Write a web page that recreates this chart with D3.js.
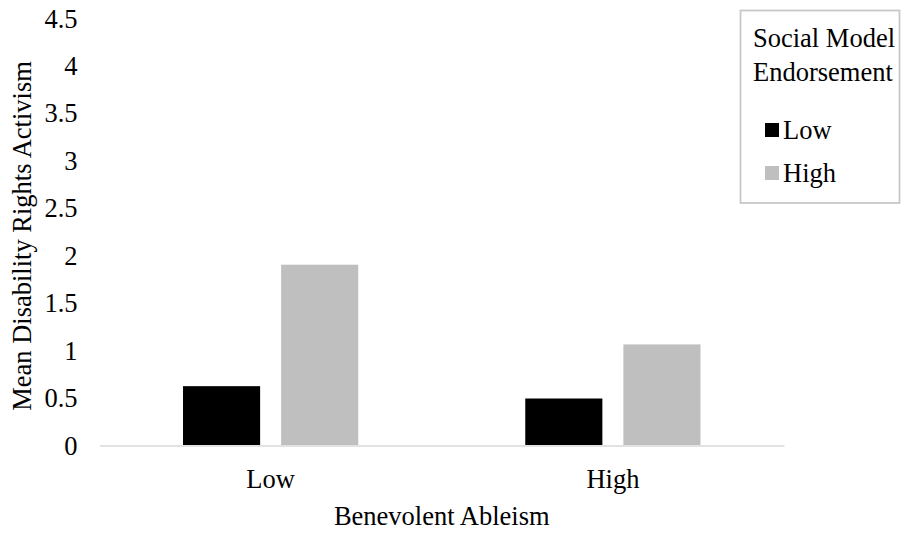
<!DOCTYPE html>
<html>
<head>
<meta charset="utf-8">
<script src="https://cdn.jsdelivr.net/npm/d3@7/dist/d3.min.js"></script>
<style>
  html, body { margin: 0; padding: 0; background: #fff; }
  svg { display: block; }
  text { font-family: "Liberation Serif", "Times New Roman", serif; fill: #000; }
</style>
</head>
<body>
<svg id="chart" width="901" height="533"></svg>
<script>
// Benevolent ableism level groups along the x axis
const categories = ["Low", "High"];
// Social model endorsement series
const seriesNames = ["Low", "High"];
const seriesColors = ["#000000", "#bfbfbf"];
// Mean disability rights activism, one array per series (Low, High ableism)
const lowEndorsement = [0.62, 0.49];
const highEndorsement = [1.90, 1.06];
const yTicks = [0, 0.5, 1, 1.5, 2, 2.5, 3, 3.5, 4, 4.5];

const seriesValues = [lowEndorsement, highEndorsement];
const FONT = "26.5px";

const svg = d3.select("#chart");

const plot = { left: 99.5, right: 784, top: 18, bottom: 445 };

const y = d3.scaleLinear().domain([0, 4.5]).range([plot.bottom, plot.top]);

const x0 = d3.scaleBand()
  .domain(categories)
  .range([plot.left, plot.right])
  .paddingInner(0.488)
  .paddingOuter(0.244);

const x1 = d3.scaleBand()
  .domain(seriesNames)
  .range([0, x0.bandwidth()])
  .paddingInner(0.214);

// Bars
const groups = svg.append("g")
  .selectAll("g")
  .data(categories)
  .join("g")
  .attr("transform", d => `translate(${x0(d)},0)`);

groups.selectAll("rect")
  .data((c, ci) => seriesNames.map((s, si) => ({ s, si, v: seriesValues[si][ci] })))
  .join("rect")
  .attr("x", d => x1(d.s))
  .attr("y", d => y(d.v))
  .attr("width", x1.bandwidth())
  .attr("height", d => y(0) - y(d.v))
  .attr("fill", d => seriesColors[d.si]);

// Category axis
const xAxis = svg.append("g")
  .attr("transform", `translate(0,${plot.bottom + 0.5})`)
  .call(d3.axisBottom(x0).tickSize(0).tickPadding(24));
xAxis.select(".domain").attr("stroke", "#d9d9d9").attr("stroke-width", 1.3);
xAxis.selectAll("text")
  .style("font-size", FONT)
  .attr("font-family", null);

// Value axis (labels only)
const yAxis = svg.append("g")
  .attr("transform", `translate(${plot.left - 22},0)`)
  .call(d3.axisLeft(y).tickValues(yTicks).tickFormat(d3.format("")).tickSize(0).tickPadding(0));
yAxis.select(".domain").remove();
yAxis.selectAll("text")
  .style("font-size", FONT)
  .attr("font-family", null)
  .attr("dy", "0.34em");

// Axis titles
svg.append("text")
  .attr("x", (plot.left + plot.right) / 2)
  .attr("y", 516)
  .attr("dy", "0.34em")
  .attr("text-anchor", "middle")
  .style("font-size", FONT)
  .text("Benevolent Ableism");

svg.append("text")
  .attr("transform", `translate(22,236) rotate(-90)`)
  .attr("dy", "0.34em")
  .attr("text-anchor", "middle")
  .style("font-size", FONT)
  .text("Mean Disability Rights Activism");

// Legend
const legend = svg.append("g");
legend.append("rect")
  .attr("x", 740.5).attr("y", 10.5)
  .attr("width", 159).attr("height", 192.5)
  .attr("fill", "#fff")
  .attr("stroke", "#c8c8c8")
  .attr("stroke-width", 1.8);

legend.append("text")
  .attr("x", 753).attr("y", 38).attr("dy", "0.34em")
  .style("font-size", FONT)
  .text("Social Model");
legend.append("text")
  .attr("x", 753).attr("y", 72).attr("dy", "0.34em")
  .style("font-size", FONT)
  .text("Endorsement");

const items = legend.selectAll("g.item")
  .data(seriesNames)
  .join("g")
  .attr("class", "item")
  .attr("transform", (d, i) => `translate(765,${130 + i * 43})`);

items.append("rect")
  .attr("x", 0).attr("y", -7)
  .attr("width", 14).attr("height", 14)
  .attr("fill", (d, i) => seriesColors[i]);

items.append("text")
  .attr("x", 18).attr("y", 0).attr("dy", "0.34em")
  .style("font-size", FONT)
  .text(d => d);
</script>
</body>
</html>
